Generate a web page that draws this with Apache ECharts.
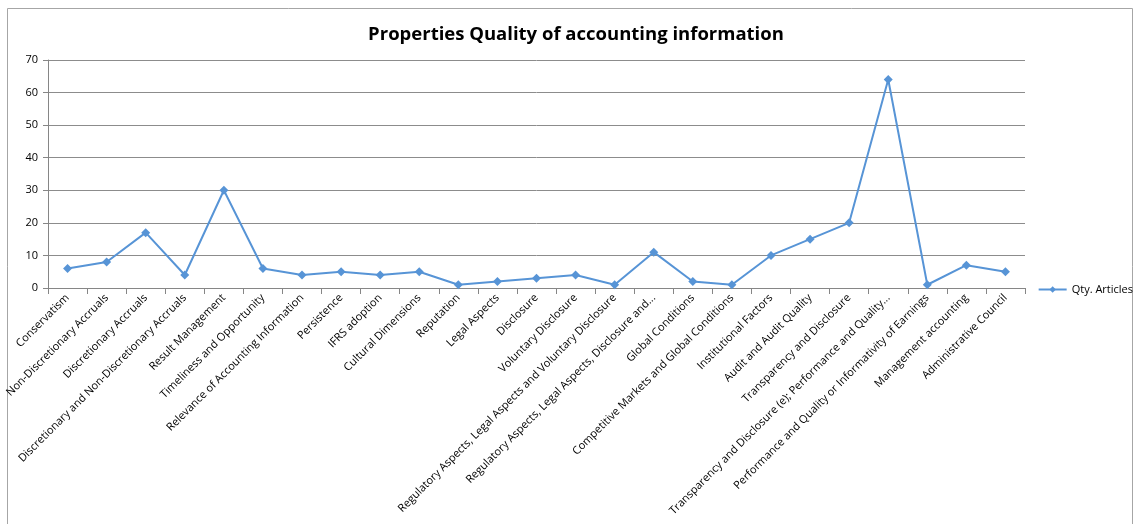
<!DOCTYPE html>
<html>
<head>
<meta charset="utf-8">
<script src="https://cdn.jsdelivr.net/npm/echarts@6/dist/echarts.min.js"></script>
<style>
  html, body { margin: 0; padding: 0; background: #fff; }
  #chart { width: 1140px; height: 524px; }
</style>
</head>
<body>
<div id="chart"></div>
<script>
  // categories as printed under the x axis (long ones are cut in the source)
  const categories = [
    'Conservatism',
    'Non-Discretionary Accruals',
    'Discretionary Accruals',
    'Discretionary and Non-Discretionary Accruals',
    'Result Management',
    'Timeliness and Opportunity',
    'Relevance of Accounting Information',
    'Persistence',
    'IFRS adoption',
    'Cultural Dimensions',
    'Reputation',
    'Legal Aspects',
    'Disclosure',
    'Voluntary Disclosure',
    'Regulatory Aspects, Legal Aspects and Voluntary Disclosure',
    'Regulatory Aspects, Legal Aspects, Disclosure and...',
    'Global Conditions',
    'Competitive Markets and Global Conditions',
    'Institutional Factors',
    'Audit and Audit Quality',
    'Transparency and Disclosure',
    'Transparency and Disclosure (e); Performance and Quality...',
    'Performance and Quality or Informativity of Earnings',
    'Management accounting',
    'Administrative Council'
  ]
  const qtyArticles = [6, 8, 17, 4, 30, 6, 4, 5, 4, 5, 1, 2, 3, 4, 1, 11, 2, 1, 10, 15, 20, 64, 1, 7, 5]
  const seriesName = 'Qty. Articles'
  const titleText = 'Properties Quality of accounting information'

  const font = '"Open Sans", "Noto Sans", sans-serif'
  const lineColor = '#5794d6'

  const chart = echarts.init(document.getElementById('chart'))
  chart.setOption({
    animation: false,
    graphic: [{
      type: 'rect',
      shape: { x: 7.5, y: 8.5, width: 1125, height: 530 },
      style: { fill: 'none', stroke: '#a6a6a6', lineWidth: 1 },
      silent: true
    }],
    title: {
      text: titleText,
      left: 576,
      textAlign: 'center',
      top: 20,
      textStyle: {
        fontFamily: font,
        fontWeight: 'bold',
        fontSize: 18.5,
        color: '#000'
      }
    },
    legend: {
      right: 2,
      top: 279,
      itemWidth: 28,
      itemHeight: 8,
      itemGap: 4,
      textStyle: { fontFamily: font, fontSize: 11, color: '#000' },
      data: [seriesName]
    },
    grid: {
      left: 48,
      right: 115,
      top: 60,
      bottom: 236,
      containLabel: false
    },
    xAxis: {
      type: 'category',
      data: categories,
      boundaryGap: true,
      axisLine: { lineStyle: { color: '#868686', width: 1 } },
      axisTick: { show: true, interval: 0, length: 6, lineStyle: { color: '#868686' } },
      axisLabel: {
        interval: 0,
        rotate: 45,
        margin: 8,
        fontFamily: font,
        fontSize: 11,
        color: '#000'
      }
    },
    yAxis: {
      type: 'value',
      min: 0,
      max: 70,
      interval: 10,
      axisLine: { show: true, lineStyle: { color: '#868686' } },
      axisTick: { show: true, length: 5, lineStyle: { color: '#868686' } },
      axisLabel: { fontFamily: font, fontSize: 11, color: '#000', margin: 10 },
      splitLine: { lineStyle: { color: '#8c8c8c', width: 1 } }
    },
    series: [{
      name: seriesName,
      type: 'line',
      data: qtyArticles,
      symbol: 'diamond',
      symbolSize: 9,
      showAllSymbol: true,
      lineStyle: { color: lineColor, width: 2 },
      itemStyle: { color: lineColor }
    }]
  })
  chart.setOption({ title: { left: 571 } })
</script>
</body>
</html>
